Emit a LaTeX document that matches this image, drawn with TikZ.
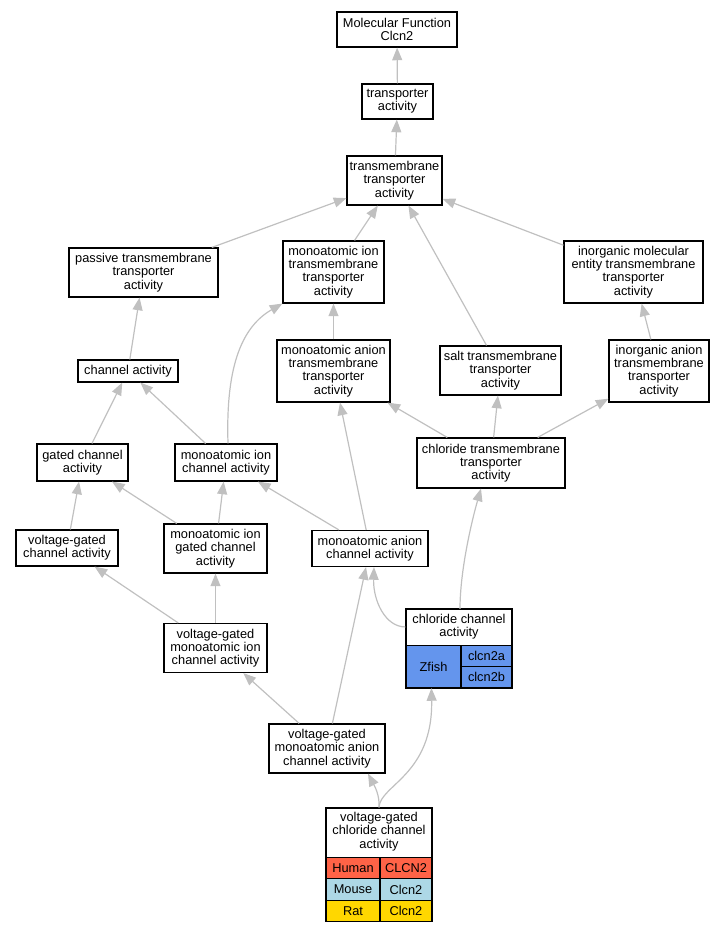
\documentclass[tikz,border=0pt]{standalone}
\usepackage{fontspec}
\setmainfont{Liberation Sans}
\usetikzlibrary{arrows.meta,calc}
\definecolor{edgegray}{HTML}{C0C0C0}
\definecolor{humanred}{HTML}{FF6347}
\definecolor{mouseblue}{HTML}{ADD8E6}
\definecolor{ratgold}{HTML}{FFD700}
\definecolor{zfishblue}{HTML}{6495ED}
\begin{document}
\begin{tikzpicture}[x=0.75pt,y=-0.75pt,
  wh/.style 2 args={minimum width=#1*0.75pt,minimum height=#2*0.75pt},
  txt/.style={inner sep=0pt,align=center,font=\fontsize{9.6pt}{9.9pt}\selectfont},
  nd/.style={txt,draw=black,line width=0.85pt,fill=white},
  cell/.style={txt,draw=black,line width=0.85pt},
  edge/.style={draw=edgegray,line width=0.9pt,-{Triangle[length=9.5pt,width=7.5pt]}}]
\useasboundingbox (0,0) rectangle (724,933);

% plain nodes
\node[nd,wh={120}{35}] (mf) at (397,29.5) {Molecular Function\\Clcn2};
\node[nd,wh={71}{35}] (ta) at (397.5,101.5) {transporter\\activity};
\node[nd,wh={95}{49}] (tta) at (394.5,180.5) {transmembrane\\transporter\\activity};
\node[nd,wh={149}{49}] (ptta) at (143.5,272.5) {passive transmembrane\\transporter\\activity};
\node[nd,wh={101}{62}] (mitta) at (333.5,272) {monoatomic ion\\transmembrane\\transporter\\activity};
\node[nd,wh={139}{62}] (imetta) at (633.5,272) {inorganic molecular\\entity transmembrane\\transporter\\activity};
\node[nd,wh={100}{22}] (ca) at (128,371) {channel activity};
\node[nd,wh={113}{62}] (matta) at (333.5,371) {monoatomic anion\\transmembrane\\transporter\\activity};
\node[nd,wh={121}{49}] (stta) at (500.5,370.5) {salt transmembrane\\transporter\\activity};
\node[nd,wh={100}{62}] (iatta) at (659,371) {inorganic anion\\transmembrane\\transporter\\activity};
\node[nd,wh={91}{37}] (gca) at (82.5,462.5) {gated channel\\activity};
\node[nd,wh={102}{37}] (mica) at (226,462.5) {monoatomic ion\\channel activity};
\node[nd,wh={148}{50}] (ctta) at (491,463) {chloride transmembrane\\transporter\\activity};
\node[nd,wh={102}{36}] (vgca) at (67,548) {voltage-gated\\channel activity};
\node[nd,wh={103}{49}] (migca) at (215.5,548.5) {monoatomic ion\\gated channel\\activity};
\node[nd,wh={116}{36}] (maca) at (370,548.5) {monoatomic anion\\channel activity};
\node[nd,wh={103}{49}] (vgmica) at (215.5,648) {voltage-gated\\monoatomic ion\\channel activity};
\node[nd,wh={116}{49}] (vgmaca) at (327,748.5) {voltage-gated\\monoatomic anion\\channel activity};

% chloride channel activity (table)
\node[nd,wh={106}{78}] (cca) at (459,648.5) {};
\node[txt] (ccat) at (459,627) {chloride channel\\activity};
\node[cell,fill=zfishblue,wh={55}{42}] (zf) at (433.5,666.5) {Zfish};
\node[cell,fill=zfishblue,wh={51}{21}] (zfa) at (486.5,656) {clcn2a};
\node[cell,fill=zfishblue,wh={51}{21}] (zfb) at (486.5,677) {clcn2b};
\draw[line width=0.85pt] (cca.north west) rectangle (cca.south east);

% voltage-gated chloride channel activity (table)
\node[nd,wh={106}{113}] (vgcca) at (379,864.5) {};
\node[txt] (vgccat) at (379,831.5) {voltage-gated\\chloride channel\\activity};
\node[cell,fill=humanred,wh={54}{21.5}] (hu) at (353,868) {Human};
\node[cell,fill=humanred,wh={52}{21.5}] (huv) at (406,868) {CLCN2};
\node[cell,fill=mouseblue,wh={54}{21.5}] (mo) at (353,889.5) {Mouse};
\node[cell,fill=mouseblue,wh={52}{21.5}] (mov) at (406,889.5) {Clcn2};
\node[cell,fill=ratgold,wh={54}{21.5}] (ra) at (353,911) {Rat};
\node[cell,fill=ratgold,wh={52}{21.5}] (rav) at (406,911) {Clcn2};
\draw[line width=0.85pt] (vgcca.north west) rectangle (vgcca.south east);

% edges (child -> parent)
\draw[edge] (ta) -- (mf);
\draw[edge] (tta) -- (ta);
\draw[edge] (ptta) -- (tta);
\draw[edge] (mitta) -- (tta);
\draw[edge] (stta) -- (tta);
\draw[edge] (imetta) -- (tta);
\draw[edge] (ca) -- (ptta);
\draw[edge] (matta) -- (mitta);
\draw[edge] (iatta) -- (imetta);
\draw[edge] (gca) -- (ca);
\draw[edge] (mica) -- (ca);
\draw[edge] ($(mica.north)+(2,0)$) .. controls (226,380) and (236,330) .. (mitta.south west);
\draw[edge] (ctta) -- (matta);
\draw[edge] (ctta) -- (stta);
\draw[edge] (ctta) -- (iatta);
\draw[edge] (vgca) -- (gca);
\draw[edge] (migca) -- (gca);
\draw[edge] (migca) -- (mica);
\draw[edge] (maca) -- (mica);
\draw[edge] (maca) -- (matta);
\draw[edge] (vgmica) -- (vgca);
\draw[edge] (vgmica) -- (migca);
\draw[edge] (vgmaca) -- (vgmica);
\draw[edge] (vgmaca) -- (maca);
\draw[edge] ($(cca.north west)+(0,18)$) .. controls (385,627) and (373,600) .. ($(maca.south)+(4,0)$);
\draw[edge] ($(cca.north)+(1,0)$) .. controls (460,570) and (472,520) .. ($(ctta.south)+(-10,0)$);
\draw[edge] (vgcca.north) .. controls (380,795) and (374,785) .. ($(vgmaca.south)+(41,0)$);
\draw[edge] (vgcca.north) .. controls (380,785) and (433,775) .. ($(cca.south west)+(26,0)$);
\end{tikzpicture}
\end{document}
